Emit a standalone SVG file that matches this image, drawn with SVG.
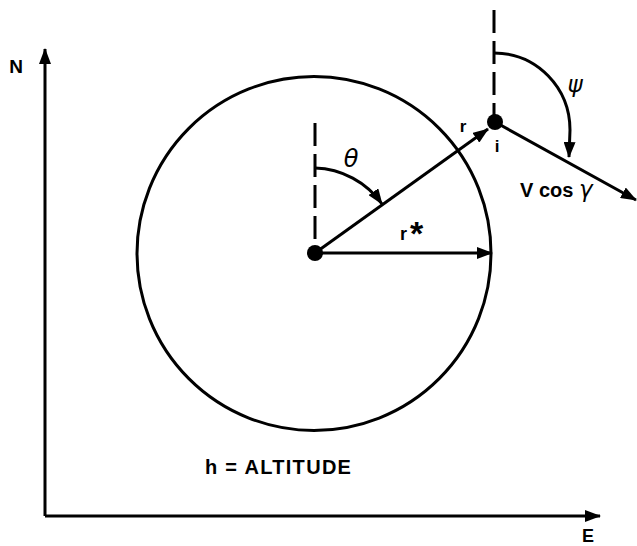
<svg xmlns="http://www.w3.org/2000/svg" width="637" height="546" viewBox="0 0 637 546">
<defs>
<marker id="ah" markerUnits="userSpaceOnUse" markerWidth="16" markerHeight="12" refX="15" refY="6" orient="auto"><path d="M0,0 L16,6 L0,12 Z" fill="#000"/></marker>
</defs>
<style>
.ln{stroke:#000;stroke-width:3;fill:none}
.ds{stroke:#000;stroke-width:3;fill:none;stroke-dasharray:23 8}
.lb{font-family:"Liberation Sans",Arial,sans-serif;font-weight:bold;fill:#000}
.gk{font-family:"DejaVu Sans","Liberation Sans",sans-serif;font-style:italic;fill:#000}
</style>
<rect width="637" height="546" fill="#fff"/>
<g id="axes">
<path class="ln" d="M45,516 L45,49" marker-end="url(#ah)"/>
<path class="ln" d="M45,516 L600,516" marker-end="url(#ah)"/>
<text class="lb" x="16" y="73" font-size="19" text-anchor="middle">N</text>
<text class="lb" x="588" y="542" font-size="18" text-anchor="middle">E</text>
</g>
<g id="circle">
<circle class="ln" cx="314" cy="253.5" r="177"/>
</g>
<g id="center">
<circle cx="315" cy="253" r="8" fill="#000"/>
</g>
<g id="point-i">
<circle cx="495" cy="122" r="8" fill="#000"/>
<text class="lb" x="497" y="152" font-size="17" text-anchor="middle">i</text>
</g>
<g id="connectors">
<line class="ds" x1="315" y1="123" x2="315" y2="253"/>
<line class="ds" x1="494" y1="10" x2="494" y2="122"/>
<path class="ln" d="M315,253 L488,129" marker-end="url(#ah)"/>
<path class="ln" d="M315,253 L492,253" marker-end="url(#ah)"/>
<path class="ln" d="M495,122 L636,200" marker-end="url(#ah)"/>
<path class="ln" d="M315,168 A85,85 0 0 1 382,204" marker-end="url(#ah)"/>
<path class="ln" d="M494,53 C537,53 570,88 570,130 L569,157" marker-end="url(#ah)"/>
</g>
<g id="labels">
<text class="gk" x="351" y="167" font-size="24" text-anchor="middle">θ</text>
<text class="gk" x="575" y="92" font-size="23" text-anchor="middle">ψ</text>
<text class="lb" x="463" y="132" font-size="17" text-anchor="middle">r</text>
<text class="lb" x="400" y="240" font-size="18">r</text>
<text class="lb" x="410" y="245" font-size="34">*</text>
<text class="lb" x="520" y="197" font-size="20">V cos <tspan class="gk" font-weight="normal" font-size="23">γ</tspan></text>
<text class="lb" x="205" y="474" font-size="20" letter-spacing="1.3">h = ALTITUDE</text>
</g>
</svg>
